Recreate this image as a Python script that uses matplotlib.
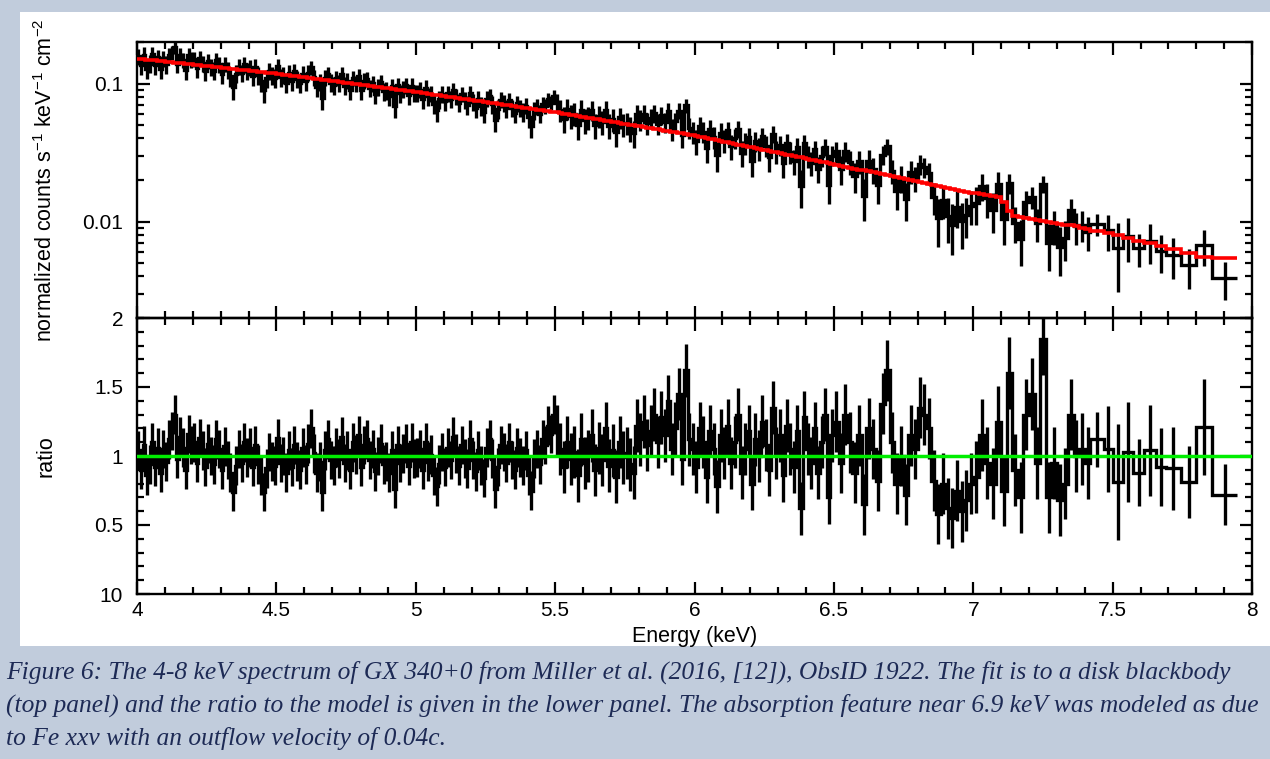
import numpy as np
import matplotlib.pyplot as plt
from matplotlib.patches import Rectangle
from matplotlib.ticker import MultipleLocator, LogLocator, NullFormatter

plt.rcParams['font.family'] = ['Liberation Sans', 'DejaVu Sans']
plt.rcParams['mathtext.fontset'] = 'custom'
plt.rcParams['mathtext.rm'] = 'Liberation Sans'
plt.rcParams['mathtext.it'] = 'Liberation Sans:italic'

# --- data ---------------------------------------------------------------
# ratio (data / model) in bins of 0.01 keV, 4.0 - 5.5 keV
ratio_a = [1.04, 0.90, 1.08, 0.86, 0.94, 1.10, 0.92, 1.06, 0.88, 1.05,
           0.96, 1.12, 1.18, 1.30, 0.98, 1.14, 1.06, 0.90, 1.16, 1.08,
           1.10, 0.95, 1.13, 1.04, 0.92, 1.09, 1.00, 0.94, 1.12, 1.05,
           0.90, 1.07, 0.97, 0.88, 0.74, 0.93, 1.05, 0.95, 1.10, 0.99,
           1.06, 0.92, 1.08, 0.94, 0.86, 0.74, 0.91, 1.03, 0.96, 0.93,
           1.13, 0.95, 1.00, 0.88, 1.04, 0.92, 1.08, 0.96, 0.90, 1.06,
           0.94, 1.09, 1.20, 1.02, 0.88, 0.96, 0.74, 1.04, 1.12, 0.97,
           0.93, 1.06, 0.98, 1.14, 0.95, 1.04, 0.90, 1.10, 1.01, 1.15,
           0.92, 1.08, 1.12, 0.97, 1.05, 0.89, 1.00, 1.09, 0.94, 0.96,
           0.88, 1.04, 0.76, 1.08, 0.95, 1.02, 1.09, 0.93, 1.10, 0.98,
           0.99, 1.05, 0.90, 1.10, 0.96, 1.01, 0.86, 0.78, 0.94, 1.03,
           0.92, 1.06, 0.97, 1.14, 1.02, 0.93, 1.08, 0.98, 0.91, 1.12,
           0.97, 0.89, 1.04, 0.93, 0.84, 1.06, 1.12, 0.98, 0.76, 0.92,
           1.08, 1.03, 0.95, 1.10, 0.97, 0.90, 1.06, 0.99, 0.93, 1.04,
           0.86, 0.75, 0.98, 1.05, 0.94, 1.12, 1.08, 1.22, 1.16, 1.30]
# 0.0125 keV bins, 5.5 - 6.5 keV
ratio_b = [1.18, 1.05, 0.92, 1.10, 0.98, 1.03, 0.86, 1.12, 0.95, 1.00,
           1.15, 0.90, 1.06, 0.97, 1.20, 0.93, 1.04, 0.85, 1.10, 0.99,
           1.02, 0.94, 0.88, 1.22, 1.12, 1.25, 1.08, 1.18, 1.30, 1.10,
           1.28, 1.15, 1.40, 1.05, 1.20, 1.45, 0.98, 1.62, 1.12, 1.05,
           0.92, 1.20, 1.10, 0.85, 1.18, 1.05, 0.78, 1.15, 1.02, 1.22,
           0.95, 1.10, 1.30, 0.88, 1.05, 1.18, 0.80, 1.12, 1.00, 1.25,
           1.08, 0.90, 1.35, 1.02, 1.15, 0.86, 1.22, 1.05, 0.92, 1.18,
           0.62, 1.28, 1.05, 0.95, 1.20, 0.88, 1.10, 1.30, 0.70, 1.15]
# 1/60 keV bins, 6.5 - 7.0 keV
ratio_c = [1.25, 0.95, 1.30, 1.10, 0.88, 1.15, 0.65, 1.20, 1.05, 0.82,
           1.38, 1.62, 1.10, 0.80, 1.00, 0.72, 1.15, 1.05, 1.35, 1.30,
           1.20, 0.82, 0.58, 0.80, 0.62, 0.55, 0.75, 0.60, 0.68, 0.80]
# 0.02 keV bins, 7.0 - 7.42 keV
ratio_d = [0.85, 1.15, 0.95, 0.80, 1.25, 0.75, 1.60, 0.90, 0.70, 1.30,
           1.45, 0.95, 1.85, 0.70, 0.95, 0.68, 0.80, 1.30, 1.00, 1.05, 0.95]
# wide bins above 7.42 keV (right edges)
wide_edges = [7.47, 7.50, 7.536, 7.572, 7.614, 7.655, 7.69, 7.746, 7.80, 7.857, 7.946]
ratio_e = [1.12, 1.05, 0.81, 1.03, 0.88, 1.04, 0.92, 0.91, 0.81, 1.21, 0.72]
err_e = [0.20, 0.31, 0.42, 0.36, 0.24, 0.33, 0.28, 0.30, 0.26, 0.35, 0.22]
err_a, err_b, err_c, err_d = 0.14, 0.19, 0.22, 0.26

# disk blackbody model (normalized counts s^-1 keV^-1 cm^-2)
model_energy = [4.0, 4.5, 5.0, 5.5, 6.0, 6.5, 7.0, 7.1, 7.12, 7.14, 7.36, 7.5, 7.857, 7.946]
model_value = [0.152, 0.118, 0.087, 0.062, 0.042, 0.026, 0.0161, 0.0149, 0.0128,
               0.0110, 0.0093, 0.0081, 0.0054, 0.0054]

caption = ["Figure 6: The 4-8 keV spectrum of GX 340+0 from Miller et al. (2016, [12]), ObsID 1922. The fit is to a disk blackbody",
           "(top panel) and the ratio to the model is given in the lower panel. The absorption feature near 6.9 keV was modeled as due",
           "to Fe xxv with an outflow velocity of 0.04c."]

# --- bins ----------------------------------------------------------------
edges = np.concatenate([np.linspace(4.0, 5.5, 151), np.linspace(5.5, 6.5, 81)[1:],
                        np.linspace(6.5, 7.0, 31)[1:], np.linspace(7.0, 7.42, 22)[1:],
                        wide_edges])
ratio = np.concatenate([ratio_a, ratio_b, ratio_c, ratio_d, ratio_e])
err = np.concatenate([np.full(len(ratio_a), err_a), np.full(len(ratio_b), err_b),
                      np.full(len(ratio_c), err_c), np.full(len(ratio_d), err_d), err_e])
centers = 0.5 * (edges[:-1] + edges[1:])
model = 10 ** np.interp(centers, model_energy, np.log10(model_value))
counts = model * ratio
cerr = model * err

W, H = 1270, 759
fig = plt.figure(figsize=(W / 100, H / 100), dpi=100)
fig.patch.set_facecolor('#c1ccdc')
fig.add_artist(Rectangle((20 / W, 1 - 646 / H), 1, 634 / H, transform=fig.transFigure,
                         facecolor='white', edgecolor='none', zorder=0))

ax1 = fig.add_axes([137 / W, 1 - 318 / H, 1115 / W, 276 / H])
ax2 = fig.add_axes([137 / W, 1 - 594 / H, 1115 / W, 276 / H], sharex=ax1)

lw = 2.4
ax1.stairs(counts, edges, baseline=None, color='k', lw=lw)
ax1.vlines(centers, counts - cerr, counts + cerr, color='k', lw=lw)
ax1.stairs(model, edges, baseline=None, color='#ff0000', lw=2.6, zorder=5)
ax1.set_yscale('log')
ax1.set_ylim(0.002, 0.2)

ax2.stairs(ratio, edges, baseline=None, color='k', lw=lw)
ax2.vlines(centers, ratio - err, ratio + err, color='k', lw=lw)
ax2.axhline(1, color='#00ee00', lw=2.5, zorder=5)
ax2.set_ylim(0, 2)
ax2.set_xlim(4, 8)

for ax in (ax1, ax2):
    ax.set_facecolor('none')
    ax.tick_params(which='both', direction='in', top=True, right=True, width=1.6,
                   labelsize=15, colors='k')
    ax.tick_params(which='major', length=9)
    ax.tick_params(which='minor', length=5)
    ax.tick_params(axis='y', pad=10)
    ax.tick_params(axis='x', pad=5)
    ax.xaxis.set_major_locator(MultipleLocator(0.5))
    ax.xaxis.set_minor_locator(MultipleLocator(0.1))
    for s in ax.spines.values():
        s.set_linewidth(1.7)

ax1.tick_params(labelbottom=False)
ax1.set_yticks([0.01, 0.1])
ax1.set_yticklabels(['0.01', '0.1'])
ax1.yaxis.set_minor_locator(LogLocator(base=10, subs=np.arange(2, 10)))
ax1.yaxis.set_minor_formatter(NullFormatter())

ax2.set_yticks([0, 0.5, 1, 1.5, 2])
ax2.set_yticklabels(['10', '0.5', '1', '1.5', '2'])
ax2.yaxis.set_minor_locator(MultipleLocator(0.1))
ax2.set_xticks([4, 4.5, 5, 5.5, 6, 6.5, 7, 7.5, 8])
ax2.set_xticklabels(['4', '4.5', '5', '5.5', '6', '6.5', '7', '7.5', '8'])

ax1.set_ylabel(r'normalized counts s$^{-1}$ keV$^{-1}$ cm$^{-2}$', fontsize=15.5)
ax2.set_ylabel('ratio', fontsize=15.5)
ax1.yaxis.set_label_coords(-0.072, 0.5)
ax2.yaxis.set_label_coords(-0.072, 0.5)
ax2.set_xlabel('Energy (keV)', fontsize=15.5)
ax2.xaxis.set_label_coords(0.5, -0.115)

# caption, shrunk so that the longest line fits the width
cap_texts = []
for i, line in enumerate(caption):
    cap_texts.append(fig.text(6 / W, 1 - (672 + 33 * i) / H, line, fontsize=19,
                              fontstyle='italic', family='Liberation Serif',
                              color='#1d2a55', va='center', ha='left'))
renderer = fig.canvas.get_renderer()
longest = max(t.get_window_extent(renderer).width for t in cap_texts)
for t in cap_texts:
    t.set_fontsize(19 * min(1.0, 1258 / longest))

fig.savefig('out.png', dpi=100, facecolor=fig.get_facecolor())
